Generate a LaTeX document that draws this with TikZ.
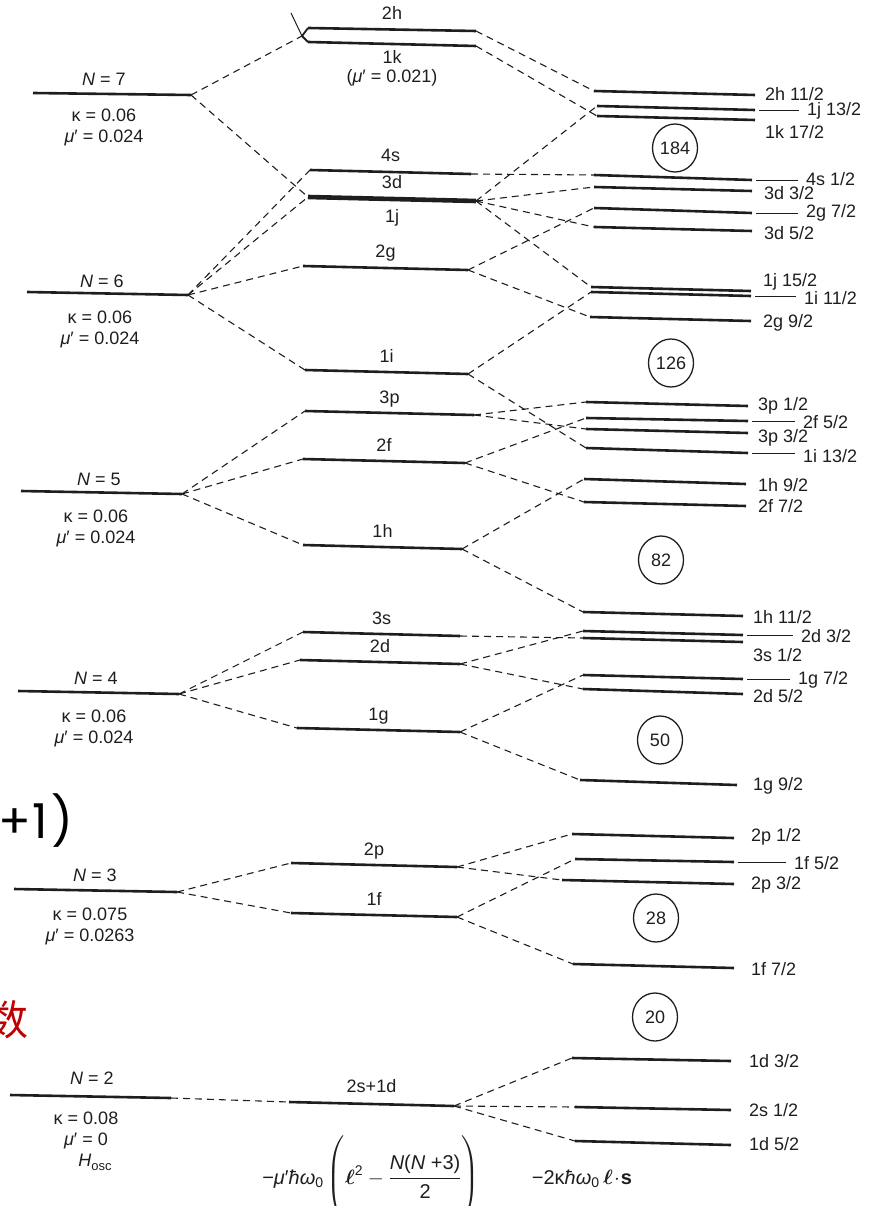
\documentclass[tikz,border=0pt]{standalone}
\usepackage{amsmath}
\usepackage{fontspec}
\setmainfont{Liberation Sans}
\newfontfamily\slidefont{Poppins}
\newfontfamily\cjkfont{Noto Sans CJK SC}
\usetikzlibrary{calc,shapes.geometric}
\definecolor{levelInk}{HTML}{1E1E1E}
\definecolor{slideRed}{HTML}{C00000}

\begin{document}
\begin{tikzpicture}[x=1pt, y=-1pt,
  every node/.style={font=\fontsize{18}{21}\selectfont, inner sep=1pt, text=levelInk},
  level/.style={draw=levelInk, line width=2.6pt},
  link/.style={draw=levelInk, line width=1.1pt, dash pattern=on 7pt off 5pt},
  leader/.style={draw=levelInk, line width=0.5pt},
  term/.style={font=\fontsize{20}{22}\selectfont, anchor=base},
  magic/.style={ellipse, draw=levelInk, line width=1.3pt, minimum width=45pt, minimum height=48pt, inner sep=0pt}]

\useasboundingbox (0,0) rectangle (879,1206);
\clip (0,0) rectangle (879,1206);

% oscillator shells
\foreach \nm/\xa/\ya/\xb/\yb in {n7/33/93/191/95, n6/27/292/188/295, n5/21/491/182/494,
    n4/18/691/179/694, n3/14/889/177/892, n2/10/1095/171/1098} {
  \coordinate (\nm-l) at (\xa,\ya);
  \coordinate (\nm-r) at (\xb,\yb);
  \draw[level] (\nm-l) -- (\nm-r);
}

\node (n7-t) [anchor=base] at (104,86) {\textit{N} = 7};
\node (n7-p) [anchor=base, align=center] at (104,143) {κ = 0.06\\\textit{μ}′ = 0.024};
\node (n6-t) [anchor=base] at (102,287) {\textit{N} = 6};
\node (n6-p) [anchor=base, align=center] at (100,344) {κ = 0.06\\\textit{μ}′ = 0.024};
\node (n5-t) [anchor=base] at (99,485) {\textit{N} = 5};
\node (n5-p) [anchor=base, align=center] at (96,543) {κ = 0.06\\\textit{μ}′ = 0.024};
\node (n4-t) [anchor=base] at (96,684) {\textit{N} = 4};
\node (n4-p) [anchor=base, align=center] at (94,743) {κ = 0.06\\\textit{μ}′ = 0.024};
\node (n3-t) [anchor=base] at (95,881) {\textit{N} = 3};
\node (n3-p) [anchor=base, align=center] at (90,941) {κ = 0.075\\\textit{μ}′ = 0.0263};
\node (n2-t) [anchor=base] at (92,1084) {\textit{N} = 2};
\node (n2-p) [anchor=base, align=center] at (86,1145) {κ = 0.08\\\textit{μ}′ = 0};
\node (hosc) [anchor=base] at (95,1166) {\textit{H}{\fontsize{13}{13}\selectfont\raisebox{-4pt}{osc}}};

% with the l^2 term
\foreach \nm/\xa/\ya/\xb/\yb/\txt/\dy in {h2/308/28/476/31/{2h}/-10, k1/308/42/476/46/{1k}/20,
    s4/310/170/471/174/{4s}/-10, d3/308/197/476/201/{3d}/-10, g2/303/266/468/270/{2g}/-10,
    i1/305/370/468/374/{1i}/-10, p3/305/411/474/415/{3p}/-10, f2/303/459/465/463/{2f}/-10,
    h1/303/545/462/549/{1h}/-10, s3/303/632/460/636/{3s}/-10, d2/300/660/460/664/{2d}/-10,
    g1/297/728/460/732/{1g}/-10, p2/291/863/457/867/{2p}/-10, f1/291/913/457/917/{1f}/-10,
    sd/289/1102/454/1106/{2s+1d}/-12} {
  \coordinate (\nm-l) at (\xa,\ya);
  \coordinate (\nm-r) at (\xb,\yb);
  \draw[level] (\nm-l) -- (\nm-r);
  \node (\nm-t) [anchor=base] at ($(\nm-l)!0.5!(\nm-r)+(0,\dy)$) {\txt};
}
\draw[level, line width=4.6pt] (d3-l) -- (d3-r);
\node (j1-t) [anchor=base] at ($(d3-l)!0.5!(d3-r)+(0,24)$) {1j};
\node (k1-mu) [anchor=base] at ($(k1-t.base)+(0,19)$) {(\textit{μ}′ = 0.021)};

\coordinate (hk) at (302,36);
\coordinate (hk-top) at (291,13);
\draw[levelInk, line width=1pt] (hk-top) -- (hk);
\draw[levelInk, line width=1.8pt] (h2-l) -- (hk) -- (k1-l);

% with the l.s term
\foreach \nm/\xa/\ya/\xb/\yb/\lx/\ly/\txt in {h2a/594/91/755/95/764/94/{2h 11/2},
    j1a/597/106/755/110/806/111/{1j 13/2}, k1a/597/116/755/120/764/132/{1k 17/2},
    s4a/594/175/752/180/805/179/{4s 1/2}, d3a/594/187/752/191/763/193/{3d 3/2},
    g2a/594/208/752/213/805/213/{2g 7/2}, d3b/594/227/752/231/763/233/{3d 5/2},
    j1b/591/287/751/291/762/282/{1j 15/2}, i1a/591/292/751/296/803/298/{1i 11/2},
    g2b/590/317/751/321/762/323/{2g 9/2}, p3a/586/402/748/406/757/406/{3p 1/2},
    f2a/586/418/748/421/802/422/{2f 5/2}, p3b/586/429/748/433/757/438/{3p 3/2},
    i1b/586/448/748/453/802/456/{1i 13/2}, h1a/584/479/746/484/757/485/{1h 9/2},
    f2b/584/502/746/506/757/506/{2f 7/2}, h1b/583/612/743/616/752/617/{1h 11/2},
    d2a/583/631/743/635/800/636/{2d 3/2}, s3a/583/638/743/642/752/655/{3s 1/2},
    g1a/583/675/743/679/797/680/{1g 7/2}, d2b/583/689/743/694/752/696/{2d 5/2},
    g1b/580/780/737/785/752/786/{1g 9/2}, p2a/572/834/734/838/750/837/{2p 1/2},
    f1a/575/859/734/862/793/863/{1f 5/2}, p2b/562/880/734/884/750/885/{2p 3/2},
    f1b/573/964/734/968/750/969/{1f 7/2}, d1a/572/1058/731/1061/748/1061/{1d 3/2},
    s2a/575/1107/731/1110/748/1110/{2s 1/2}, d1b/575/1141/731/1145/748/1144/{1d 5/2}} {
  \coordinate (\nm-l) at (\xa,\ya);
  \coordinate (\nm-r) at (\xb,\yb);
  \draw[level] (\nm-l) -- (\nm-r);
  \node (\nm-t) [anchor=west] at (\lx,\ly) {\txt};
}
\foreach \nm in {j1a, s4a, g2a, i1a, f2a, i1b, d2a, g1a, f1a}
  \draw[leader, shorten <=4pt, shorten >=7pt] (\nm-r) -- (\nm-r -| \nm-t.west);

% dashed connectors
\draw[link] (n7-r) -- (hk);
\foreach \a/\b in {n7/d3, n6/s4, n6/d3, n6/g2, n6/i1, n5/p3, n5/f2, n5/h1, n4/s3, n4/d2,
    n4/g1, n3/p2, n3/f1, n2/sd, h2/h2a, k1/k1a, d3/j1a, d3/j1b, s4/s4a, d3/d3a, d3/d3b,
    g2/g2a, g2/g2b, i1/i1a, i1/i1b, p3/p3a, p3/p3b, f2/f2a, f2/f2b, h1/h1a, h1/h1b,
    s3/s3a, d2/d2a, d2/d2b, g1/g1a, g1/g1b, p2/p2a, p2/p2b, f1/f1a, f1/f1b,
    sd/d1a, sd/s2a, sd/d1b}
  \draw[link] (\a-r) -- (\b-l);

% magic numbers
\node (m184) [magic] at (675,148) {184};
\node (m126) [magic] at (671,363) {126};
\node (m82) [magic] at (661,560) {82};
\node (m50) [magic] at (660,740) {50};
\node (m28) [magic] at (656,918) {28};
\node (m20) [magic] at (655,1017) {20};

% terms
\node (ell2) [term] at (371,1184) {−\textit{μ}′\textit{ħω}\textsubscript{0}\,$\left(\rule[-36pt]{0pt}{82pt}\boldsymbol{\ell}^{\text{2}}-\dfrac{\text{\textit{N}(\textit{N} +3)}}{\text{2}}\right)$};
\node (ls) [term] at (582,1184) {−2κ\textit{ħω}\textsubscript{0}\,$\boldsymbol{\ell}\!\cdot\!\mathbf{s}$};

% bits of the slide behind
\node (frag-a) [anchor=base west, font=\slidefont\fontsize{48}{48}\selectfont, text=black] at (-3,838) {+\kern2pt1\kern3pt)};
\node (frag-b) [font=\cjkfont\fontsize{42}{42}\selectfont, text=slideRed] at (8,1020) {数};
\end{tikzpicture}
\end{document}
